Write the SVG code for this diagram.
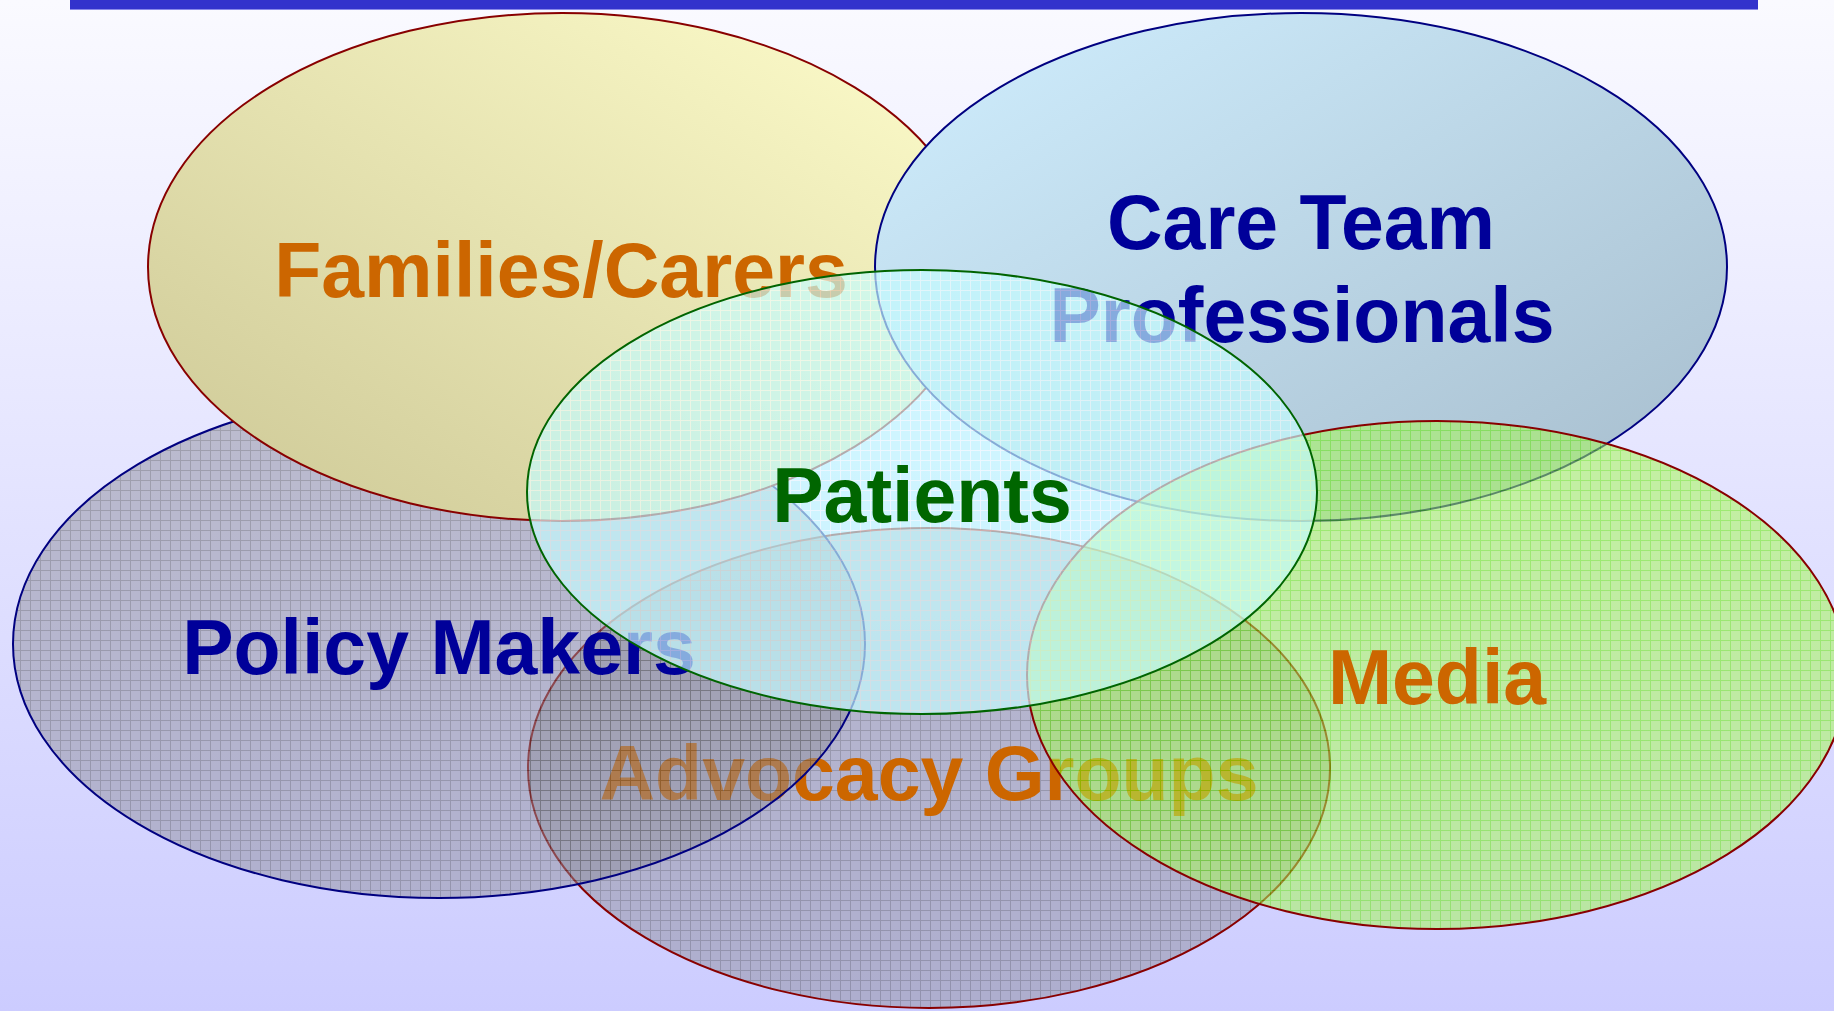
<svg xmlns="http://www.w3.org/2000/svg" width="1834" height="1011" viewBox="0 0 1834 1011">
  <style>
    .label { font-family: "Liberation Sans", Arial, sans-serif; font-weight: bold; font-size: 77px; text-anchor: middle; }
    .orange { fill: #cc6600; }
    .navy { fill: #000099; }
    .green { fill: #006600; }
    .edge { stroke-width: 2; }
  </style>
  <defs>
    <linearGradient id="bg" x1="0" y1="0" x2="0" y2="1">
      <stop offset="0" stop-color="#fafaff"/>
      <stop offset="1" stop-color="#ccccff"/>
    </linearGradient>
    <linearGradient id="yellowFill" x1="1" y1="0" x2="0" y2="1">
      <stop offset="0" stop-color="#fffecc"/>
      <stop offset="1" stop-color="#ccc795"/>
    </linearGradient>
    <linearGradient id="blueFill" x1="0" y1="0" x2="1" y2="1">
      <stop offset="0" stop-color="#d0efff"/>
      <stop offset="1" stop-color="#a6bccc"/>
    </linearGradient>
    <!-- translucent grid textures -->
    <pattern id="gridGrey" width="10" height="10" patternUnits="userSpaceOnUse">
      <rect width="10" height="10" fill="#90909e"/>
      <path d="M0 0.5H10M0.5 0V10" stroke="#58585c" stroke-width="1"/>
    </pattern>
    <pattern id="gridGreen" width="10" height="10" patternUnits="userSpaceOnUse">
      <rect width="10" height="10" fill="#a8f858"/>
      <path d="M0 0.5H10M0.5 0V10" stroke="#66ee00" stroke-width="1"/>
    </pattern>
    <pattern id="gridCyan" width="10" height="10" patternUnits="userSpaceOnUse">
      <rect width="10" height="10" fill="#c4fcff"/>
      <path d="M0 0.5H10M0.5 0V10" stroke="#f0ffff" stroke-width="1"/>
    </pattern>
  </defs>

  <!-- backdrop and title rule -->
  <rect width="1834" height="1011" fill="url(#bg)"/>
  <rect x="70" y="0" width="1688" height="9" fill="#3333cc"/>
  <rect x="70" y="9" width="1688" height="1" fill="#8a8ae8"/>

  <g id="advocacy-groups">
    <ellipse cx="929" cy="768" rx="401" ry="240" fill="url(#gridGrey)" fill-opacity="0.5" stroke="#880000" class="edge"/>
    <text x="929" y="800" class="label orange">Advocacy Groups</text>
  </g>

  <g id="policy-makers">
    <ellipse cx="439" cy="644" rx="426" ry="254" fill="url(#gridGrey)" fill-opacity="0.5" stroke="#000080" class="edge"/>
    <text x="439" y="674" class="label navy">Policy Makers</text>
  </g>

  <g id="families-carers">
    <ellipse cx="562" cy="267" rx="414" ry="254" fill="url(#yellowFill)" stroke="#880000" class="edge"/>
    <text x="561" y="297" class="label orange">Families/Carers</text>
  </g>

  <g id="care-team">
    <ellipse cx="1301" cy="267" rx="426" ry="254" fill="url(#blueFill)" stroke="#000080" class="edge"/>
    <text x="1301" y="249" class="label navy">Care Team</text>
    <text x="1302" y="342" class="label navy">Professionals</text>
  </g>

  <g id="media">
    <ellipse cx="1437" cy="675" rx="410" ry="254" fill="url(#gridGreen)" fill-opacity="0.55" stroke="#880000" class="edge"/>
    <text x="1437" y="704" class="label orange">Media</text>
  </g>

  <g id="patients">
    <ellipse cx="922" cy="492" rx="395" ry="222" fill="url(#gridCyan)" fill-opacity="0.68" stroke="#006400" class="edge"/>
    <text x="922" y="522" class="label green">Patients</text>
  </g>

  <g id="connectors"/>
</svg>
